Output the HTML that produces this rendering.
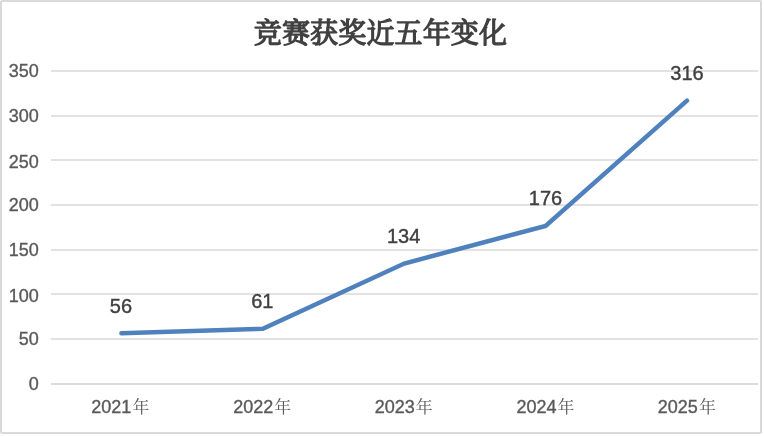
<!DOCTYPE html>
<html lang="zh-CN">
<head>
<meta charset="utf-8">
<title>竞赛获奖近五年变化</title>
<style>
html,body{margin:0;padding:0;background:#fff;}
body{width:764px;height:436px;overflow:hidden;}
svg{display:block;will-change:transform;}
.ax{font-family:"Liberation Sans","Noto Serif CJK SC",sans-serif;font-size:18px;fill:#595959;stroke:#595959;stroke-width:0.35px;}
.cjk{font-family:"Noto Serif CJK SC","Liberation Sans",serif;font-weight:400;stroke:none;font-size:17px;}
.dl{font-family:"Liberation Sans",sans-serif;font-size:20px;fill:#404040;stroke:#404040;stroke-width:0.4px;}
.title{font-family:"Noto Serif CJK SC","Liberation Serif",serif;font-weight:400;font-size:28px;fill:#404040;stroke:#404040;stroke-width:1.3px;stroke-linejoin:round;letter-spacing:0.15px;}
</style>
</head>
<body>
<svg width="764" height="436" viewBox="0 0 764 436">
<rect x="0" y="0" width="764" height="436" fill="#ffffff"/>
<rect x="1" y="1" width="760" height="432" rx="1.2" ry="1.2" fill="#ffffff" stroke="#d9d9d9" stroke-width="2"/>

<line x1="51.0" x2="758.0" y1="339.00" y2="339.00" stroke="#d9d9d9" stroke-width="1.5"/>
<line x1="51.0" x2="758.0" y1="294.00" y2="294.00" stroke="#d9d9d9" stroke-width="1.5"/>
<line x1="51.0" x2="758.0" y1="250.00" y2="250.00" stroke="#d9d9d9" stroke-width="1.5"/>
<line x1="51.0" x2="758.0" y1="205.00" y2="205.00" stroke="#d9d9d9" stroke-width="1.5"/>
<line x1="51.0" x2="758.0" y1="160.00" y2="160.00" stroke="#d9d9d9" stroke-width="1.5"/>
<line x1="51.0" x2="758.0" y1="116.00" y2="116.00" stroke="#d9d9d9" stroke-width="1.5"/>
<line x1="51.0" x2="758.0" y1="71.00" y2="71.00" stroke="#d9d9d9" stroke-width="1.5"/>
<line x1="51.0" x2="758.0" y1="384" y2="384" stroke="#cfcfcf" stroke-width="1.5"/>
<text class="ax" x="38.8" y="390.40" text-anchor="end">0</text>
<text class="ax" x="38.8" y="345.40" text-anchor="end">50</text>
<text class="ax" x="38.8" y="301.50" text-anchor="end">100</text>
<text class="ax" x="38.8" y="256.40" text-anchor="end">150</text>
<text class="ax" x="38.8" y="211.40" text-anchor="end">200</text>
<text class="ax" x="38.8" y="167.50" text-anchor="end">250</text>
<text class="ax" x="38.8" y="122.40" text-anchor="end">300</text>
<text class="ax" x="38.8" y="77.40" text-anchor="end">350</text>
<text class="ax" x="120.40" y="413" text-anchor="middle">2021<tspan class="cjk" dx="1.1" dy="0.2">年</tspan></text>
<text class="ax" x="262.30" y="413" text-anchor="middle">2022<tspan class="cjk" dx="1.1" dy="0.2">年</tspan></text>
<text class="ax" x="403.70" y="413" text-anchor="middle">2023<tspan class="cjk" dx="1.1" dy="0.2">年</tspan></text>
<text class="ax" x="545.50" y="413" text-anchor="middle">2024<tspan class="cjk" dx="1.1" dy="0.2">年</tspan></text>
<text class="ax" x="686.90" y="413" text-anchor="middle">2025<tspan class="cjk" dx="1.1" dy="0.2">年</tspan></text>
<text class="title" x="380.5" y="43.2" text-anchor="middle">竞赛获奖近五年变化</text>
<polyline points="121.40,333.30 262.80,328.82 404.20,263.51 545.60,225.93 687.00,100.67" fill="none" stroke="#4f81bd" stroke-width="4.5" stroke-linecap="round" stroke-linejoin="miter"/>
<text class="dl" x="120.90" y="313.10" text-anchor="middle">56</text>
<text class="dl" x="262.30" y="307.52" text-anchor="middle">61</text>
<text class="dl" x="403.70" y="243.31" text-anchor="middle">134</text>
<text class="dl" x="545.50" y="204.63" text-anchor="middle">176</text>
<text class="dl" x="687.00" y="80.27" text-anchor="middle">316</text>
</svg>
</body>
</html>
